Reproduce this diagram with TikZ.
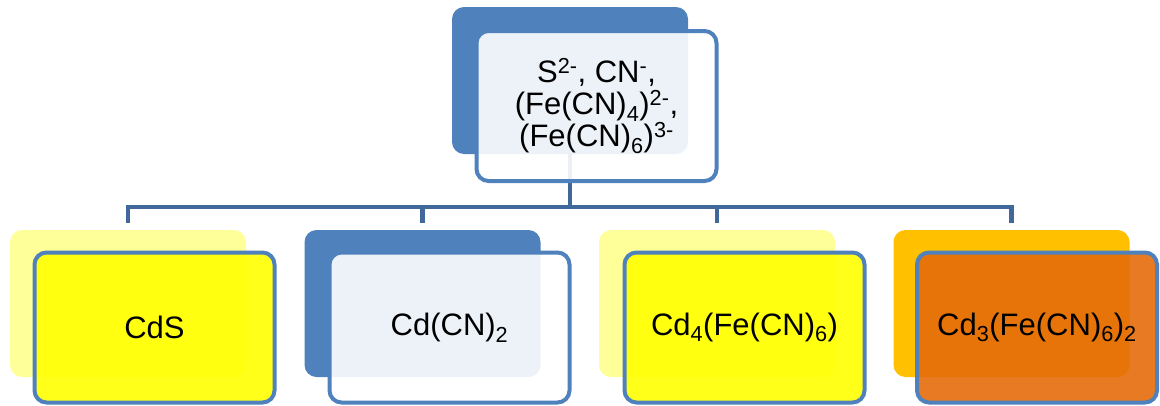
\documentclass[tikz,border=0pt]{standalone}
\usepackage{fontspec}
\setmainfont{Liberation Sans}
\definecolor{accent}{RGB}{79,129,189}
\definecolor{linec}{RGB}{65,104,155}
\definecolor{paleyel}{RGB}{255,255,153}
\definecolor{yel}{RGB}{255,255,0}
\definecolor{ambr}{RGB}{255,192,0}
\definecolor{orng}{RGB}{228,108,10}
\tikzset{
  backbox/.style={rounded corners=12, minimum width=236, minimum height=147, inner sep=0pt, draw=none},
  frontbox/.style={rounded corners=12, minimum width=240, minimum height=150, inner sep=0pt,
    line width=4, draw=accent, fill opacity=0.9, text opacity=1, align=center,
    font=\fontsize{31}{32}\selectfont},
  conn/.style={draw=linec, line width=4.5}
}
\begin{document}
\begin{tikzpicture}[x=1pt,y=-1pt]
\useasboundingbox (0,0) rectangle (1160,405);
% back boxes
\node[backbox, fill=accent] (tb) at (570,80.5) {};
\node[backbox, fill=paleyel] (b1b) at (128,303.5) {};
\node[backbox, fill=accent] (b2b) at (422.5,303.5) {};
\node[backbox, fill=paleyel] (b3b) at (717,303.5) {};
\node[backbox, fill=ambr] (b4b) at (1011.5,303.5) {};
% connectors
\coordinate (bus) at (570,207);
\draw[conn] (tb.south) -- (bus);
\draw[conn, shorten >=7pt] (bus) -| (b1b.north);
\draw[conn, shorten >=7pt] (bus) -| (b2b.north);
\draw[conn, shorten >=7pt] (bus) -| (b3b.north);
\draw[conn, shorten >=7pt] (bus) -| (b4b.north);
% front boxes
\node[frontbox, fill=white] (tf) at (596.5,106) {S\textsuperscript{2-}, CN\textsuperscript{-},\\(Fe(CN)\textsubscript{4})\textsuperscript{2-},\\(Fe(CN)\textsubscript{6})\textsuperscript{3-}};
\node[frontbox, fill=yel] (b1f) at (154.5,327.5) {CdS};
\node[frontbox, fill=white] (b2f) at (449.5,327.5) {Cd(CN)\textsubscript{2}};
\node[frontbox, fill=yel] (b3f) at (744.5,327.5) {Cd\textsubscript{4}(Fe(CN)\textsubscript{6})};
\node[frontbox, fill=orng] (b4f) at (1037,327.5) {Cd\textsubscript{3}(Fe(CN)\textsubscript{6})\textsubscript{2}};
\end{tikzpicture}
\end{document}
